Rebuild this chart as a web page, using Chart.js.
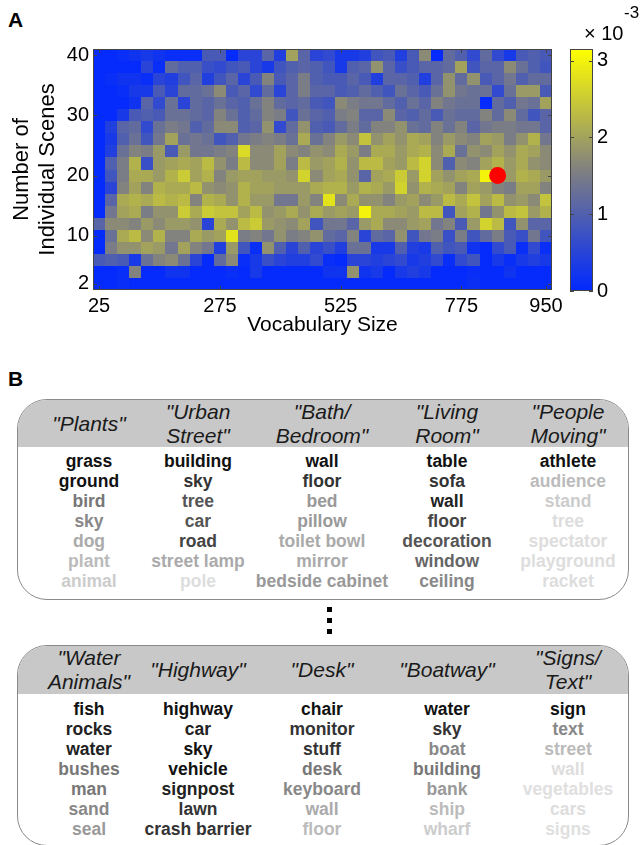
<!DOCTYPE html>
<html>
<head>
<meta charset="utf-8">
<script src="https://cdn.jsdelivr.net/npm/chart.js@4.4.0/dist/chart.umd.min.js"></script>
<style>
  body { margin: 0; width: 643px; height: 845px; position: relative; overflow: hidden; background: #fff;
         font-family: "Liberation Sans", Arial, Helvetica, sans-serif; color: #000; }
  canvas { position: absolute; }
  #heatmap { left: 0; top: 0; }
  #colorbar { left: 560px; top: 0; }
  .panel-label { position: absolute; left: 8px; font-weight: bold; font-size: 21px; line-height: 24px; }
  .exp { position: absolute; font-size: 20px; line-height: 22px; }
  .box { position: absolute; left: 17px; width: 610px; border: 1px solid #8a8a8a; border-radius: 30px;
         overflow: hidden; background: #fff; }
  .head { position: absolute; left: 0; top: 0; right: 0; background: #c8c8c8; }
  .title { position: absolute; width: 150px; text-align: center; font-style: italic; font-size: 21px;
           line-height: 24px; color: #1a1a1a; }
  .words { position: absolute; width: 150px; text-align: center; font-weight: bold; font-size: 17.5px;
           line-height: 20px; white-space: nowrap; }
  .dot { position: absolute; left: 327px; width: 5px; height: 5px; background: #000; }
</style>
</head>
<body>
<div class="panel-label" style="top:8px">A</div>
<div class="panel-label" style="top:367px">B</div>
<canvas id="heatmap" width="570" height="345"></canvas>
<canvas id="colorbar" width="83" height="345"></canvas>
<div class="exp" style="left:584px; top:22px">× 10</div>
<div class="exp" style="left:624px; top:2px; font-size:17px">-3</div>
<div id="panelB"></div>

<script>
// ---- panel A data (density in units of 1e-3) ----
const vocabSizes = [25, 50, 75, 100, 125, 150, 175, 200, 225, 250, 275, 300, 325, 350, 375, 400, 425, 450, 475,
  500, 525, 550, 575, 600, 625, 650, 675, 700, 725, 750, 775, 800, 825, 850, 875, 900, 925, 950];
const sceneCounts = [40, 38, 36, 34, 32, 30, 28, 26, 24, 22, 20, 18, 16, 14, 12, 10, 8, 6, 4, 2];
const xTickValues = [25, 275, 525, 775, 950];
const yTickValues = [2, 10, 20, 30, 40];
const colorbarTicks = [0, 1, 2, 3];
const highlight = [{ x: 850, y: 20 }];

const scenes40 = [0.05,0.05,0.1,0.2,0.3,0.2,0.1,0.1,0.1,0.9,0.9,0.05,0.5,0.5,1.1,0.4,2.0,1.1,0.5,
  0.6,0.3,0.3,0.4,0.8,0.9,0.4,0.9,1.7,0.05,1.2,1.0,0.6,1.2,0.6,0.3,0.9,1.0,0.9];
const scenes38 = [0.05,0.05,0.05,0.05,0.5,0.1,1.2,1.0,1.0,0.7,0.6,0.8,0.9,0.5,0.3,0.8,1.0,1.1,1.0,
  0.8,0.3,1.0,1.1,1.8,1.1,0.7,0.9,1.1,1.1,1.2,2.0,0.8,1.1,1.1,1.7,1.3,1.0,0.8];
const scenes36 = [0.05,0.1,0.2,0.2,0.1,0.5,0.4,0.8,1.1,0.4,0.8,1.1,0.5,0.9,1.6,0.9,1.1,1.5,1.0,
  0.9,0.9,1.1,0.9,0.4,1.1,1.1,1.0,0.4,1.1,1.8,1.2,1.8,0.9,1.1,1.4,1.0,1.2,1.2];
const scenes34 = [0.05,0.05,0.1,0.3,0.3,0.9,0.5,1.2,1.2,1.3,1.7,0.9,1.1,0.6,1.2,0.5,1.1,1.5,1.1,
  1.1,0.9,1.0,1.2,1.0,0.8,1.3,1.1,0.9,1.3,1.8,1.4,1.3,1.3,0.6,1.3,1.9,1.9,0.9];
const scenes32 = [0.05,0.05,0.05,0.2,1.1,0.6,1.3,0.5,1.2,1.1,1.3,1.1,1.0,1.3,1.6,1.2,1.1,1.2,0.9,
  0.8,1.7,1.5,1.4,1.4,1.2,1.0,1.3,1.1,1.6,1.4,1.3,1.3,0.05,1.2,1.0,1.4,1.3,2.0];
const scenes30 = [0.05,0.05,0.3,0.9,1.0,0.9,1.3,1.3,1.2,1.1,1.6,1.3,1.0,1.2,1.6,1.5,0.8,1.3,1.1,
  1.0,1.5,1.6,1.1,1.1,1.7,1.1,1.0,1.2,0.9,1.3,1.2,1.2,1.6,1.2,1.7,1.2,0.8,1.1];
const scenes28 = [0.05,0.4,1.1,1.2,0.6,1.3,1.5,1.4,1.0,1.2,1.7,1.7,1.0,1.1,1.8,0.6,1.2,1.8,1.0,
  0.9,1.2,1.5,1.2,1.6,1.6,1.8,1.3,1.2,1.6,1.3,1.6,1.1,1.4,1.5,1.5,1.4,1.4,1.1];
const scenes26 = [0.05,0.3,1.0,1.3,0.8,1.4,2.0,1.3,1.4,1.3,0.8,1.0,1.4,1.5,1.6,1.5,1.3,2.1,1.3,
  1.6,1.9,1.7,2.4,1.8,2.0,1.8,2.1,2.0,1.6,1.9,1.7,1.6,2.0,1.9,1.5,1.8,2.2,1.4];
const scenes24 = [0.05,0.4,1.3,1.6,1.5,1.9,0.9,1.9,1.4,1.4,1.5,1.6,2.7,1.7,1.7,2.0,1.7,1.6,1.8,
  1.7,2.1,1.9,1.5,2.1,2.1,1.9,2.1,2.2,1.7,2.1,1.3,1.8,1.7,2.0,1.8,2.1,2.0,1.7];
const scenes22 = [0.05,1.0,1.5,2.2,0.7,1.9,2.0,2.1,2.0,2.3,1.8,1.5,2.3,1.7,1.7,2.0,1.5,2.3,1.9,
  2.0,2.2,1.8,2.3,2.3,2.0,1.9,2.3,2.6,1.7,1.0,1.7,1.6,2.0,2.2,1.9,2.1,1.8,1.7];
const scenes20 = [0.05,0.8,1.5,2.1,2.1,1.9,2.2,2.5,2.0,2.2,1.6,1.9,2.0,2.0,1.9,1.9,1.8,2.6,1.7,
  2.0,2.1,1.8,1.1,2.0,2.1,2.5,1.9,2.6,2.0,1.8,2.0,2.1,3.0,2.1,1.9,2.2,2.1,1.9];
const scenes18 = [0.05,0.5,1.6,2.0,1.6,2.2,2.1,2.1,2.3,1.8,1.7,1.8,2.2,2.0,2.0,1.9,1.9,1.9,2.1,
  2.2,2.2,1.9,2.2,2.1,1.9,2.6,1.8,2.2,2.1,2.0,1.6,2.0,1.9,1.6,1.5,2.0,2.0,1.6];
const scenes16 = [0.05,1.1,2.1,2.2,2.1,2.3,2.2,2.3,1.6,2.2,2.1,1.8,2.2,1.9,1.9,1.4,1.4,1.9,1.6,
  2.8,1.7,2.1,1.8,1.8,1.6,1.9,2.0,1.7,1.9,2.3,2.1,2.4,2.0,2.3,1.8,1.9,1.7,2.4];
const scenes14 = [0.05,1.4,2.0,2.1,1.5,1.8,1.8,2.5,2.1,2.5,2.4,2.4,2.0,2.3,1.8,1.9,2.1,1.8,2.1,
  1.9,2.0,1.9,3.0,2.1,2.1,2.0,1.9,2.3,2.3,0.8,2.0,2.2,1.4,1.8,2.3,2.4,1.9,2.2];
const scenes12 = [1.1,1.7,1.7,1.6,1.9,1.7,1.9,1.9,1.8,0.5,2.1,1.8,2.3,2.5,1.9,1.8,1.7,2.0,0.8,
  1.4,1.4,1.1,1.9,2.1,1.7,1.7,1.9,2.0,1.4,1.6,0.9,1.9,2.6,2.3,0.8,1.8,1.1,1.1];
const scenes10 = [0.05,1.3,2.1,2.3,1.7,2.2,1.6,1.6,2.1,1.9,2.0,2.8,1.5,1.6,1.4,1.8,1.5,1.6,1.8,
  1.2,1.1,1.6,0.5,1.2,1.1,1.8,0.8,1.4,1.5,0.7,1.5,0.8,1.2,1.5,0.9,0.7,1.4,0.8];
const scenes8 = [0.05,1.5,1.8,1.8,2.0,1.9,1.4,2.0,1.6,1.4,0.4,1.9,0.8,0.1,1.8,1.0,0.5,1.0,0.5,
  0.7,0.4,1.3,1.3,0.3,0.3,1.0,0.4,0.3,1.0,0.8,0.9,0.2,0.05,0.6,0.9,0.1,0.6,0.1];
const scenes6 = [0.9,1.0,0.9,0.3,1.3,1.6,1.7,1.3,0.5,0.05,1.2,1.7,0.1,0.3,0.7,0.5,0.4,0.4,0.6,
  0.1,0.05,0.5,0.5,0.4,0.5,0.6,0.3,0.4,0.6,0.1,0.6,0.8,0.05,0.3,0.1,0.3,0.4,0.3];
const scenes4 = [0.05,0.05,0.1,1.6,0.05,0.05,0.2,0.2,0.05,0.05,0.05,0.1,0.05,0.3,0.05,0.05,0.05,0.05,0.05,
  0.2,0.2,1.8,0.2,0.3,0.05,0.3,0.4,0.3,0.05,0.05,0.05,0.1,0.05,0.05,0.2,0.05,0.05,0.05];
const scenes2 = [0.05,0.05,0.1,0.05,0.05,0.05,0.05,0.05,0.05,0.05,0.05,0.05,0.05,0.05,0.05,0.05,0.05,0.05,0.05,
  0.05,0.05,0.05,0.05,0.05,0.05,0.05,0.05,0.05,0.05,0.05,0.05,0.15,0.05,0.05,0.05,0.05,0.05,0.05];

const densityRows = [scenes40, scenes38, scenes36, scenes34, scenes32, scenes30, scenes28, scenes26,
  scenes24, scenes22, scenes20, scenes18, scenes16, scenes14, scenes12, scenes10, scenes8, scenes6,
  scenes4, scenes2];

// ---- panel B data ----
const topTitles = [['"Plants"'], ['"Urban', 'Street"'], ['"Bath/', 'Bedroom"'], ['"Living', 'Room"'], ['"People', 'Moving"']];
const topWords = [
  ['grass', 'ground', 'bird', 'sky', 'dog', 'plant', 'animal'],
  ['building', 'sky', 'tree', 'car', 'road', 'street lamp', 'pole'],
  ['wall', 'floor', 'bed', 'pillow', 'toilet bowl', 'mirror', 'bedside cabinet'],
  ['table', 'sofa', 'wall', 'floor', 'decoration', 'window', 'ceiling'],
  ['athlete', 'audience', 'stand', 'tree', 'spectator', 'playground', 'racket']
];
const topShades = [
  [17, 17, 119, 136, 170, 187, 204],
  [17, 51, 85, 85, 68, 170, 221],
  [17, 51, 153, 153, 170, 170, 153],
  [17, 51, 34, 68, 85, 102, 136],
  [17, 187, 204, 221, 221, 221, 221]
];
const bottomTitles = [['"Water', 'Animals"'], ['"Highway"'], ['"Desk"'], ['"Boatway"'], ['"Signs/', 'Text"']];
const bottomWords = [
  ['fish', 'rocks', 'water', 'bushes', 'man', 'sand', 'seal'],
  ['highway', 'car', 'sky', 'vehicle', 'signpost', 'lawn', 'crash barrier'],
  ['chair', 'monitor', 'stuff', 'desk', 'keyboard', 'wall', 'floor'],
  ['water', 'sky', 'boat', 'building', 'bank', 'ship', 'wharf'],
  ['sign', 'text', 'street', 'wall', 'vegetables', 'cars', 'signs']
];
const bottomShades = [
  [17, 34, 34, 119, 119, 136, 153],
  [17, 34, 17, 17, 34, 51, 51],
  [17, 51, 51, 119, 136, 170, 187],
  [17, 51, 136, 119, 153, 187, 204],
  [17, 136, 187, 221, 224, 221, 224]
];
const columnCenters = [71, 180, 304, 429, 550];

const FONT = '"Liberation Sans", Arial, Helvetica, sans-serif';
const CMAX = 3.15;

// blue -> grey -> yellow colour map
function densityColor(v) {
  const t = Math.max(0, Math.min(1, v / CMAX));
  let r, g, b;
  if (t < 0.5) {
    const s = t / 0.5;
    r = 128 * s; g = 40 + 88 * s; b = 255 - 127 * s;
  } else {
    const s = (t - 0.5) / 0.5;
    r = 128 + 127 * s; g = 128 + 127 * s; b = 128 - 128 * s;
  }
  return `rgb(${Math.round(r)},${Math.round(g)},${Math.round(b)})`;
}

// small inward tick marks plus the frame, MATLAB style
function drawFrame(ctx, area, xTicks, yTicks, xScale, yScale) {
  ctx.save();
  ctx.strokeStyle = '#444';
  ctx.lineWidth = 1;
  ctx.strokeRect(area.left + 0.5, area.top + 0.5, area.right - area.left - 1, area.bottom - area.top - 1);
  ctx.beginPath();
  if (xScale) {
    xTicks.forEach(v => {
      const px = Math.round(xScale.getPixelForValue(v)) + 0.5;
      ctx.moveTo(px, area.bottom); ctx.lineTo(px, area.bottom - 4);
      ctx.moveTo(px, area.top); ctx.lineTo(px, area.top + 4);
    });
  }
  yTicks.forEach(v => {
    const py = Math.round(yScale.getPixelForValue(v)) + 0.5;
    ctx.moveTo(area.left, py); ctx.lineTo(area.left + 4, py);
    ctx.moveTo(area.right, py); ctx.lineTo(area.right - 4, py);
  });
  ctx.stroke();
  ctx.restore();
}

const heatmapCells = {
  id: 'heatmapCells',
  beforeDatasetsDraw(chart) {
    const { ctx, scales: { x, y } } = chart;
    ctx.save();
    densityRows.forEach((row, i) => {
      const top = Math.round(y.getPixelForValue(sceneCounts[i] + 1));
      const bottom = Math.round(y.getPixelForValue(sceneCounts[i] - 1));
      row.forEach((v, j) => {
        const left = Math.round(x.getPixelForValue(vocabSizes[j] - 12.5));
        const right = Math.round(x.getPixelForValue(vocabSizes[j] + 12.5));
        ctx.fillStyle = densityColor(v);
        ctx.fillRect(left, top, right - left, bottom - top);
      });
    });
    ctx.restore();
  },
  afterDraw(chart) {
    drawFrame(chart.ctx, chart.chartArea, xTickValues, yTickValues, chart.scales.x, chart.scales.y);
  }
};

const colorbarFill = {
  id: 'colorbarFill',
  beforeDatasetsDraw(chart) {
    const { ctx, chartArea, scales: { y } } = chart;
    const y0 = y.getPixelForValue(0), y1 = y.getPixelForValue(CMAX);
    const grad = ctx.createLinearGradient(0, y0, 0, y1);
    [0, 0.25, 0.5, 0.75, 1].forEach(t => grad.addColorStop(t, densityColor(t * CMAX)));
    ctx.save();
    ctx.fillStyle = grad;
    ctx.fillRect(chartArea.left, chartArea.top, chartArea.right - chartArea.left, chartArea.bottom - chartArea.top);
    ctx.restore();
  },
  afterDraw(chart) {
    drawFrame(chart.ctx, chart.chartArea, [], colorbarTicks, null, chart.scales.y);
  }
};

const tickFont = { size: 20, family: FONT };

new Chart(document.getElementById('heatmap'), {
  type: 'scatter',
  data: {
    datasets: [{
      data: highlight,
      pointRadius: 8.5,
      pointHoverRadius: 8.5,
      backgroundColor: '#ff0000',
      borderWidth: 0
    }]
  },
  options: {
    responsive: false,
    devicePixelRatio: 1,
    animation: false,
    layout: { padding: { left: 0, top: 49, right: 18, bottom: 0 } },
    plugins: { legend: { display: false }, tooltip: { enabled: false } },
    scales: {
      x: {
        type: 'linear', min: 12.5, max: 962.5,
        afterBuildTicks: s => { s.ticks = xTickValues.map(v => ({ value: v })); },
        afterFit: s => { s.height = 55; s.paddingLeft = 0; s.paddingRight = 0; },
        grid: { display: false, drawTicks: false },
        border: { display: false },
        ticks: { font: tickFont, color: '#000', padding: 4, maxRotation: 0, autoSkip: false },
        title: { display: true, text: 'Vocabulary Size', color: '#000',
                 font: { size: 21, family: FONT, lineHeight: 1.2 }, padding: { top: 0, bottom: 7 } }
      },
      y: {
        type: 'linear', min: 1, max: 41,
        afterBuildTicks: s => { s.ticks = yTickValues.map(v => ({ value: v })); },
        afterFit: s => { s.width = 93; s.paddingTop = 0; s.paddingBottom = 0; },
        grid: { display: false, drawTicks: false },
        border: { display: false },
        ticks: { font: tickFont, color: '#000', padding: 4, autoSkip: false },
        title: { display: true, text: ['Number of', 'Individual Scenes'], color: '#000',
                 font: { size: 22, family: FONT, lineHeight: 1.18 }, padding: { top: 9, bottom: 0 } }
      }
    }
  },
  plugins: [heatmapCells]
});

new Chart(document.getElementById('colorbar'), {
  type: 'scatter',
  data: { datasets: [{ data: [] }] },
  options: {
    responsive: false,
    devicePixelRatio: 1,
    animation: false,
    layout: { padding: { left: 10, top: 49, right: 0, bottom: 54 } },
    plugins: { legend: { display: false }, tooltip: { enabled: false } },
    scales: {
      x: { display: false, min: 0, max: 1 },
      y: {
        position: 'right', min: 0, max: CMAX,
        afterBuildTicks: s => { s.ticks = colorbarTicks.map(v => ({ value: v })); },
        afterFit: s => { s.width = 50; s.paddingTop = 0; s.paddingBottom = 0; },
        grid: { display: false, drawTicks: false },
        border: { display: false },
        ticks: { font: tickFont, color: '#000', padding: 4 }
      }
    }
  },
  plugins: [colorbarFill]
});

// ---- panel B: two rounded boxes of scene categories ----
function buildBox(top, headHeight, wordsTop, titles, words, shades) {
  const box = document.createElement('div');
  box.className = 'box';
  box.style.top = top + 'px';
  box.style.height = '199px';
  const head = document.createElement('div');
  head.className = 'head';
  head.style.height = headHeight + 'px';
  box.appendChild(head);
  titles.forEach((lines, c) => {
    const t = document.createElement('div');
    t.className = 'title';
    t.style.left = (columnCenters[c] - 75) + 'px';
    t.style.top = Math.round((headHeight - lines.length * 24) / 2) + 'px';
    t.innerHTML = lines.join('<br>');
    box.appendChild(t);
    const w = document.createElement('div');
    w.className = 'words';
    w.style.left = (columnCenters[c] - 75) + 'px';
    w.style.top = wordsTop + 'px';
    words[c].forEach((word, k) => {
      const line = document.createElement('div');
      const g = shades[c][k];
      line.style.color = `rgb(${g},${g},${g})`;
      line.textContent = word;
      w.appendChild(line);
    });
    box.appendChild(w);
  });
  document.getElementById('panelB').appendChild(box);
}

buildBox(399, 47, 51, topTitles, topWords, topShades);
buildBox(645, 48, 53, bottomTitles, bottomWords, bottomShades);

[607, 618, 629].forEach(y => {
  const d = document.createElement('div');
  d.className = 'dot';
  d.style.top = y + 'px';
  document.body.appendChild(d);
});
</script>
</body>
</html>
